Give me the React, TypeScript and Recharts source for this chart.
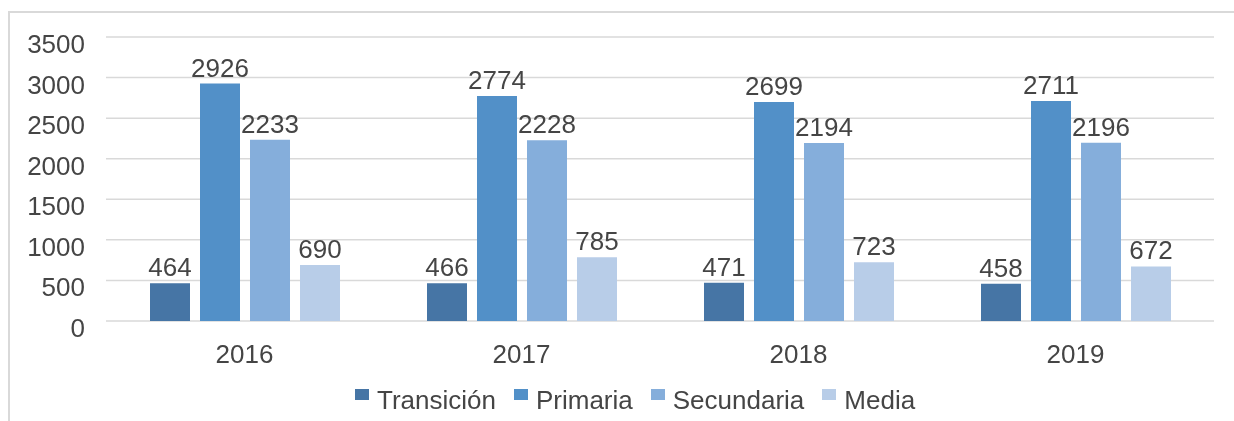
import React from "react";
import {
  BarChart,
  Bar,
  XAxis,
  YAxis,
  CartesianGrid,
  Legend,
  LabelList
} from "recharts";

const years = ["2016", "2017", "2018", "2019"];
const transicion = [464, 466, 471, 458];
const primaria = [2926, 2774, 2699, 2711];
const secundaria = [2233, 2228, 2194, 2196];
const media = [690, 785, 723, 672];
const yTicks = [0, 500, 1000, 1500, 2000, 2500, 3000, 3500];

const FONT = '"Liberation Sans", Arial, Helvetica, sans-serif';
const TEXT = "#454545";
const GRID = "#d9d9d9";

const series = [
  { key: "transicion", name: "Transición", color: "#4675a5" },
  { key: "primaria", name: "Primaria", color: "#5290c8" },
  { key: "secundaria", name: "Secundaria", color: "#85aedb" },
  { key: "media", name: "Media", color: "#b8cde8" }
];

const data = years.map((year, i) => ({
  year,
  transicion: transicion[i],
  primaria: primaria[i],
  secundaria: secundaria[i],
  media: media[i]
}));

const YTick = (props: any) => {
  const { x, y, payload } = props;
  return (
    <text x={x} y={y + 16} textAnchor="end" fill={TEXT} fontSize={26} fontFamily={FONT}>
      {payload.value}
    </text>
  );
};

const XTick = (props: any) => {
  const { x, y, payload } = props;
  return (
    <text x={x} y={y + 42} textAnchor="middle" fill={TEXT} fontSize={26} fontFamily={FONT}>
      {payload.value}
    </text>
  );
};

// keep the legend in series order (recharts sorts it by name otherwise)
const renderLegend = (props: any) => {
  const items = props.payload ?? [];
  const ordered = series
    .map((s) => items.find((p: any) => p.value === s.name) ?? { value: s.name, color: s.color });
  return (
    <div style={{ display: "flex", height: 36, fontFamily: FONT, fontSize: 26, color: TEXT }}>
      {ordered.map((item: any) => (
        <div key={item.value} style={{ display: "flex", alignItems: "flex-start", marginRight: 18 }}>
          <span
            style={{
              display: "inline-block",
              width: 14,
              height: 11,
              marginTop: 4,
              marginRight: 8,
              background: item.color
            }}
          />
          <span style={{ lineHeight: "30px", whiteSpace: "nowrap" }}>{item.value}</span>
        </div>
      ))}
    </div>
  );
};

export default function App() {
  return (
    <div style={{ position: "relative", width: 1218, height: 405, background: "#fff" }}>
      {/* outer frame: only top and left edges are visible in the picture */}
      <div
        style={{
          position: "fixed",
          left: 8,
          top: 11,
          right: -10,
          bottom: -10,
          borderTop: `2px solid ${GRID}`,
          borderLeft: `2px solid ${GRID}`,
          pointerEvents: "none"
        }}
      />
      <BarChart
        width={1218}
        height={405}
        data={data}
        margin={{ top: 29, right: 12, bottom: 16, left: 0 }}
        barSize={40}
        barGap={10}
        style={{ position: "absolute", left: 0, top: 0 }}
      >
        <CartesianGrid vertical={false} stroke={GRID} strokeWidth={1.5} />
        <XAxis
          dataKey="year"
          axisLine={false}
          tickLine={false}
          tickSize={0}
          tickMargin={0}
          height={40}
          tick={<XTick />}
        />
        <YAxis
          domain={[0, 3500]}
          ticks={yTicks}
          axisLine={false}
          tickLine={false}
          tickSize={0}
          tickMargin={21}
          width={98}
          tick={<YTick />}
        />
        <Legend
          verticalAlign="bottom"
          content={renderLegend}
          wrapperStyle={{ left: 347, top: 377, bottom: "auto", width: "auto" }}
        />
        {series.map((s) => (
          <Bar key={s.key} dataKey={s.key} name={s.name} fill={s.color} isAnimationActive={false}>
            <LabelList
              dataKey={s.key}
              position="top"
              offset={7}
              fill={TEXT}
              fontSize={26}
              fontFamily={FONT}
            />
          </Bar>
        ))}
      </BarChart>
    </div>
  );
}
